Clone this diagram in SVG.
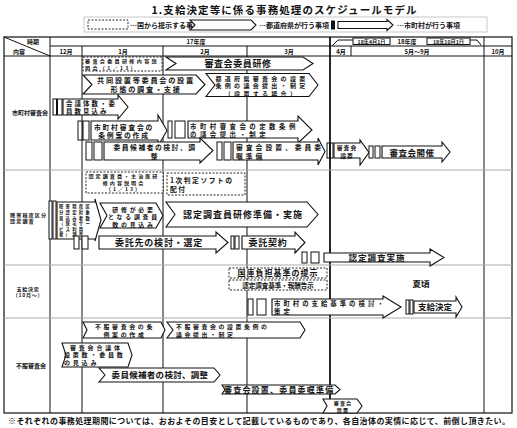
<svg xmlns="http://www.w3.org/2000/svg" width="517" height="428" viewBox="0 0 517 428">
<style>
text{font-family:"Noto Sans CJK JP","Noto Sans",sans-serif;font-weight:700;fill:#111}
.m{text-anchor:middle}
.s{fill:#fff;stroke:#111;stroke-width:1.1}
.b{fill:#fff;stroke:#111;stroke-width:1}
.d{fill:#fff;stroke:#111;stroke-width:0.9;stroke-dasharray:2 1.5}
.ln{stroke:#111;stroke-width:1;fill:none}
.gr{stroke:#aaa;stroke-width:1}
.f9{font-size:9px}.f85{font-size:8.5px}.f8{font-size:8px}.f7{font-size:7px}.f6{font-size:6px}
</style>
<rect width="517" height="428" fill="#fff"/>
<text x="284" y="14" class="m" font-size="10.5" textLength="265" lengthAdjust="spacing">1.支給決定等に係る事務処理のスケジュールモデル</text>
<g id="legend">
<rect x="84" y="17" width="403" height="15" fill="none" stroke="#bbb" stroke-width="0.8"/>
<rect x="88" y="20" width="40" height="9" class="d"/>
<text x="130" y="27.5" class="f7">…国から提示する事項</text>
<path d="M190,20H251L256,25L251,30H190L195,25Z" class="s"/>
<text x="259" y="27.5" class="f7">…都道府県が行う事項</text>
<rect x="331" y="20.5" width="4" height="9" fill="#111"/>
<path d="M338,21.5H387V19.5L393,25L387,30.5V28.5H338Z" class="s"/>
<text x="397" y="27.5" class="f7">…市町村が行う事項</text>
</g>
<g id="table">
<rect x="4" y="37" width="508" height="376" fill="none" stroke="#111" stroke-width="1.2"/>
<line x1="50" y1="46" x2="512" y2="46" class="ln"/>
<line x1="4" y1="56" x2="512" y2="56" class="ln"/>
<line x1="4" y1="37" x2="50" y2="56" class="ln"/>
<line x1="50" y1="37" x2="50" y2="413" class="ln"/>
<line x1="82" y1="46" x2="82" y2="413" class="ln"/>
<line x1="163" y1="46" x2="163" y2="413" class="ln"/>
<line x1="247" y1="46" x2="247" y2="413" class="ln"/>
<line x1="330" y1="37" x2="330" y2="413" stroke="#111" stroke-width="1.8"/>
<line x1="351" y1="46" x2="351" y2="56" class="ln"/>
<line x1="484" y1="37" x2="484" y2="413" class="ln"/>
<line x1="4" y1="170" x2="512" y2="170" class="gr"/>
<line x1="4" y1="265" x2="512" y2="265" class="gr"/>
<line x1="4" y1="318" x2="512" y2="318" class="gr"/>
<text x="33" y="44" class="m f6">時期</text>
<text x="19" y="53.5" class="m f6">内容</text>
<text x="196" y="44" class="m f6">17年度</text>
<text x="66" y="53.5" class="m f6">12月</text>
<text x="123" y="53.5" class="m f6">1月</text>
<text x="205" y="53.5" class="m f6">2月</text>
<text x="289" y="53.5" class="m f6">3月</text>
<text x="341" y="53.5" class="m f6">4月</text>
<text x="417" y="53.5" class="m f6">5月～9月</text>
<text x="498" y="53.5" class="m f6">10月</text>
<polyline points="332,46 338,40 353,40" class="ln"/>
<rect x="353" y="38" width="37" height="6.5" class="b"/>
<text x="371.5" y="43.5" class="m" font-size="5.2">18年4月1日</text>
<text x="407" y="43.5" class="m f6">18年度</text>
<rect x="427" y="38" width="43" height="6.5" class="b"/>
<text x="448.5" y="43.5" class="m" font-size="5.2">18年10月1日</text>
<polyline points="470,40 477,40 481,45" class="ln"/>
<text x="30" y="115" class="m f6">市町村審査会</text>
<text font-size="5.1" letter-spacing="1.1"><tspan x="10" y="216.5">障害程度区分</tspan><tspan x="10" y="223">認定調査</tspan></text>
<text class="m" font-size="5.1" letter-spacing="0.7"><tspan x="28" y="290.5">支給決定</tspan><tspan x="28" y="297">（10月～）</tspan></text>
<text x="31" y="368" class="m f6">不服審査会</text>
</g>
<g id="connectors"></g>
<g id="n1"><rect x="83" y="57" width="79" height="14" class="d"/><text font-size="5.1" letter-spacing="2.3"><tspan x="85" y="63.3">審査会委員研修内容説</tspan><tspan x="85" y="69.8">明会（1／13）</tspan></text></g>
<g id="n2"><path d="M166,57H303L313,63.5L303,70H166L176,63.5Z" class="s"/><text x="238" y="67" class="m f9" letter-spacing="0.6">審査会委員研修</text></g>
<g id="n3"><path d="M83,75H196L205,84.5L196,94H83L92,84.5Z" class="s"/><text class="m" font-size="7.2" letter-spacing="1.7"><tspan x="146" y="83">共同設置等委員会の設置</tspan><tspan x="146" y="92">形態の調査・支援</tspan></text></g>
<g id="n4"><path d="M206,73.5H309L318,85L309,96.5H206L215,85Z" class="s"/><text class="m" font-size="6" letter-spacing="3.3"><tspan x="262" y="80.5">都道府県審査会の設置</tspan><tspan x="262" y="88.2">条例の議会提出・制定</tspan><tspan x="262" y="95.9">（設置する場合）</tspan></text></g>
<g id="n5"><rect x="53" y="99" width="3.5" height="16" class="b"/><rect x="57.5" y="99" width="4.5" height="16" class="b"/><path d="M63,99H118V95L128,107L118,119V115H63Z" class="s"/><text font-size="6.4" letter-spacing="2.1"><tspan x="66" y="106">会議体数・委</tspan><tspan x="66" y="114">員数見込み</tspan></text></g>
<g id="n6"><rect x="78" y="121" width="4" height="19" class="b"/><rect x="83" y="121" width="6" height="19" class="b"/><path d="M91,121H158V115L167,130.5L158,146V140H91Z" class="s"/><text class="m" font-size="6.8" letter-spacing="1.8"><tspan x="124" y="129.5">市町村審査会の</tspan><tspan x="124" y="138">条例案の作成</tspan></text></g>
<g id="n7"><rect x="168" y="121" width="4" height="17" class="b"/><rect x="175" y="121" width="10" height="17" class="b"/><path d="M188,121H298V116L312,130L298,143V138H188Z" class="s"/><text font-size="6.4" letter-spacing="3.5"><tspan x="190" y="128.5">市町村審査会の定数条例</tspan><tspan x="190" y="136.5">の議会提出・制定</tspan></text></g>
<g id="n8"><rect x="86" y="142" width="6" height="18" class="b"/><rect x="94" y="142" width="8" height="18" class="b"/><path d="M104,142H200V138L213,150.5L200,163V160H104Z" class="s"/><text class="m" font-size="6.8" letter-spacing="1.5"><tspan x="155" y="150">委員候補者の検討、調</tspan><tspan x="155" y="158.5">整</tspan></text></g>
<g id="n9"><rect x="217" y="142" width="5" height="18" class="b"/><rect x="224" y="142" width="7" height="18" class="b"/><path d="M233,142H318V138L325,151.5L318,165V160H233Z" class="s"/><text font-size="6.8" letter-spacing="3"><tspan x="236" y="150">審査会設置、委員委</tspan><tspan x="236" y="158.5">嘱準備</tspan></text></g>
<g id="n10"><rect x="327" y="143" width="2.5" height="15" class="b"/><rect x="330.5" y="143" width="2.5" height="15" class="b"/><path d="M334,143H360V140L369,152.5L360,165V158H334Z" class="s"/><text class="m" font-size="5.8" letter-spacing="1"><tspan x="347" y="149.5">審査会</tspan><tspan x="347" y="157.5">設置</tspan></text></g>
<g id="n11"><rect x="369" y="146" width="4" height="12" class="b"/><rect x="375" y="146" width="5" height="12" class="b"/><path d="M382,146H442V142L450,152L442,162V158H382Z" class="s"/><text x="412" y="155.5" class="m f85" letter-spacing="0.5">審査会開催</text></g>
<g id="n12"><rect x="86" y="172" width="77" height="21" class="d"/><text class="m" font-size="5.1" letter-spacing="2"><tspan x="124" y="178.3">認定調査員・主治医研</tspan><tspan x="124" y="184.8">修内容説明会</tspan><tspan x="124" y="191.3">（1／13）</tspan></text></g>
<g id="n13"><rect x="167" y="173" width="78" height="22" class="d"/><text font-size="6.8" letter-spacing="1.5"><tspan x="170" y="183">1次判定ソフトの</tspan><tspan x="170" y="191.5">配付</tspan></text></g>
<g id="n14"><rect x="49" y="201" width="3" height="38" class="b"/><rect x="53" y="201" width="3" height="38" class="b"/><path d="M57,202H95V199L101,220L95,241V239H57Z" class="s"/><text font-size="4.3" letter-spacing="2.3"><tspan x="59" y="208.3">障害程度区</tspan><tspan x="59" y="213.9">分認定対象</tspan><tspan x="59" y="219.5">見込み者数</tspan><tspan x="59" y="225.1">（居宅サー</tspan><tspan x="59" y="230.7">ビス利用</tspan><tspan x="59" y="236.3">者）調査</tspan></text></g>
<g id="n15"><path d="M100,203H156L163,215.5L156,228H100L107,215.5Z" class="s"/><text class="m" font-size="5.9" letter-spacing="2.8"><tspan x="134" y="211.5">研修が必要</tspan><tspan x="134" y="219">となる調査員</tspan><tspan x="134" y="226.5">数の見込み</tspan></text></g>
<g id="n16"><path d="M166,202H307L318,214.5L307,227H166L175,214.5Z" class="s"/><text x="243" y="218" class="m f9" letter-spacing="1">認定調査員研修準備・実施</text></g>
<g id="n17"><rect x="74" y="236" width="5" height="13" class="b"/><rect x="82" y="236" width="6" height="13" class="b"/><path d="M99,236H216V232L228,242.5L216,253V249H99Z" class="s"/><text x="159" y="245.5" class="m f9" letter-spacing="0.8">委託先の検討・選定</text></g>
<g id="n18"><rect x="231" y="236" width="3" height="13" class="b"/><rect x="235" y="236" width="4" height="13" class="b"/><path d="M242,236H295V232L305,242.5L295,253V249H242Z" class="s"/><text x="268" y="245.5" class="m f9" letter-spacing="0.8">委託契約</text></g>
<g id="n19"><rect x="302" y="252" width="5" height="11" class="b"/><rect x="311" y="252" width="8" height="11" class="b"/><path d="M324,253H430V249L444,257.5L430,266V262H324Z" class="s"/><text x="377" y="261" class="m f85" letter-spacing="1">認定調査実施</text></g>
<g id="n20"><rect x="229" y="268" width="98" height="10" class="d"/><text x="278" y="276.3" class="m f8" letter-spacing="1">国庫負担基準の提示</text></g>
<g id="n21"><rect x="229" y="280" width="98" height="10" class="d"/><text x="278" y="287.7" class="m" font-size="6.5">認定調査基準・報酬告示</text></g>
<g id="n22"><rect x="248" y="299" width="5" height="16" class="b"/><rect x="257" y="299" width="9" height="16" class="b"/><path d="M272,299H383V296L401,307L383,318V315H272Z" class="s"/><text font-size="6.4" letter-spacing="3"><tspan x="274" y="305.5">市町村の支給基準の検討・</tspan><tspan x="274" y="313.5">策定</tspan></text></g>
<g id="n23"><rect x="406" y="300" width="3" height="14" class="b"/><rect x="410" y="300" width="3" height="14" class="b"/><path d="M414,301H456V297L462,307L456,317V313H414Z" class="s"/><text x="435" y="310" class="m f85">支給決定</text></g>
<text x="421" y="287" class="m f85">夏頃</text>
<g id="n25"><path d="M83,322H161L165,330L161,338H83L87,330Z" class="s"/><text class="m" font-size="5.9" letter-spacing="2.7"><tspan x="125" y="329">不服審査会の条</tspan><tspan x="125" y="336.5">例案の作成</tspan></text></g>
<g id="n26"><path d="M167,322H300L305,330L300,338H167L173,330Z" class="s"/><text font-size="5.9" letter-spacing="2.6"><tspan x="176" y="329">不服審査会の設置条例の</tspan><tspan x="176" y="336.5">議会提出・制定</tspan></text></g>
<g id="n27"><path d="M62,343H128L132,355L128,367H62L66,355Z" class="s"/><text font-size="6" letter-spacing="2.8"><tspan x="70" y="349.5">審査会合議体</tspan><tspan x="64" y="357.3">設置数・委員数</tspan><tspan x="64" y="365.1">の見込み</tspan></text></g>
<g id="n28"><path d="M99,368H214L220,375L214,382H99L105,375Z" class="s"/><text x="160" y="378.3" class="m f85" letter-spacing="0.3">委員候補者の検討、調整</text></g>
<g id="n29"><path d="M222,385H335L340,389.5L335,394H222L225,389.5Z" class="s"/><text x="224" y="392.5" font-size="8" letter-spacing="1.2">審査会設置、委員委嘱準備</text></g>
<g id="n30"><path d="M323,399H357L362,406L357,413H323L327,406Z" class="s"/><text class="m" font-size="5.1" letter-spacing="1.1"><tspan x="343" y="405.2">審査会</tspan><tspan x="343" y="412">設置</tspan></text></g>
<text x="8" y="424" font-size="8" textLength="502" lengthAdjust="spacing">※それぞれの事務処理期間については、おおよその目安として記載しているものであり、各自治体の実情に応じて、前倒し頂きたい。</text>
</svg>
